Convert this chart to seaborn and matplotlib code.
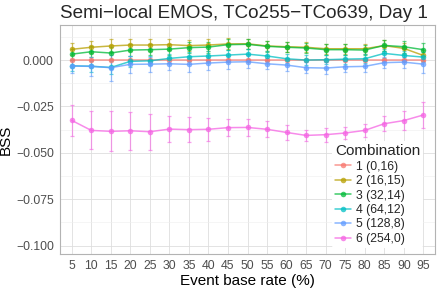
import numpy as np
import pandas as pd
import matplotlib
matplotlib.use("Agg")
import matplotlib.pyplot as plt
import seaborn as sns
from matplotlib.ticker import MultipleLocator

rates = [5, 10, 15, 20, 25, 30, 35, 40, 45, 50, 55, 60, 65, 70, 75, 80, 85, 90, 95]
combos = ["1 (0,16)", "2 (16,15)", "3 (32,14)", "4 (64,12)", "5 (128,8)", "6 (254,0)"]
colors = ["#F8766D", "#B79F00", "#00BA38", "#00BFC4", "#619CFF", "#F564E3"]

bss1 = [0.0] * 19
bss2 = [0.0058, 0.0069, 0.0076, 0.0081, 0.0081, 0.0083, 0.0078, 0.0081, 0.0087, 0.0088,
        0.0076, 0.0072, 0.0069, 0.0061, 0.0061, 0.0061, 0.0078, 0.0063, 0.0025]
bss3 = [0.0032, 0.0045, 0.0038, 0.0054, 0.0056, 0.0059, 0.0067, 0.0070, 0.0083, 0.0085,
        0.0074, 0.0069, 0.0065, 0.0056, 0.0056, 0.0054, 0.0079, 0.0072, 0.0056]
bss4 = [-0.0031, -0.0033, -0.0040, -0.0007, -0.0004, 0.0009, 0.0018, 0.0022, 0.0027, 0.0032,
        0.0022, 0.0007, 0.0000, 0.0002, 0.0005, 0.0007, 0.0036, 0.0025, 0.0016]
bss5 = [-0.0032, -0.0034, -0.0041, -0.0023, -0.0022, -0.0020, -0.0023, -0.0016, -0.0011, -0.0009,
        -0.0020, -0.0027, -0.0041, -0.0043, -0.0036, -0.0034, -0.0014, -0.0011, -0.0022]
bss6 = [-0.0325, -0.0379, -0.0384, -0.0381, -0.0386, -0.0372, -0.0375, -0.0373, -0.0364, -0.0363,
        -0.0373, -0.0390, -0.0406, -0.0402, -0.0393, -0.0379, -0.0343, -0.0326, -0.0296]

err1 = [0.0002] * 19
err2 = [0.0032, 0.0032, 0.0035, 0.0034, 0.0030, 0.0030, 0.0030, 0.0030, 0.0030, 0.0028,
        0.0028, 0.0028, 0.0028, 0.0028, 0.0028, 0.0028, 0.0030, 0.0030, 0.0030]
err3 = [0.0030, 0.0030, 0.0032, 0.0030, 0.0030, 0.0030, 0.0030, 0.0030, 0.0030, 0.0028,
        0.0028, 0.0028, 0.0028, 0.0028, 0.0028, 0.0028, 0.0030, 0.0032, 0.0035]
err4 = [0.0030, 0.0030, 0.0035, 0.0028, 0.0025, 0.0025, 0.0025, 0.0025, 0.0025, 0.0025,
        0.0025, 0.0025, 0.0025, 0.0025, 0.0025, 0.0025, 0.0025, 0.0025, 0.0025]
err5 = [0.0040, 0.0050, 0.0070, 0.0045, 0.0040, 0.0035, 0.0040, 0.0035, 0.0035, 0.0035,
        0.0030, 0.0030, 0.0030, 0.0030, 0.0030, 0.0030, 0.0030, 0.0030, 0.0045]
err6 = [0.0084, 0.0102, 0.0107, 0.0101, 0.0096, 0.0072, 0.0069, 0.0061, 0.0046, 0.0046,
        0.0043, 0.0038, 0.0031, 0.0038, 0.0032, 0.0036, 0.0041, 0.0052, 0.0071]

values = [bss1, bss2, bss3, bss4, bss5, bss6]
errors = [err1, err2, err3, err4, err5, err6]

rows = []
for c, v, e in zip(combos, values, errors):
    for i, (r, y, s) in enumerate(zip(rates, v, e)):
        rows.append({"pos": i, "rate": r, "BSS": y, "err": s, "Combination": c})
df = pd.DataFrame(rows)

sns.set_style("whitegrid")
plt.rcParams["font.family"] = ["Liberation Sans", "DejaVu Sans"]

fig = plt.figure(figsize=(4.41, 2.89), dpi=100)
ax = fig.add_axes([60 / 441, 1 - 254 / 289, 375 / 441, 229 / 289])

palette = dict(zip(combos, colors))
for c in combos:
    sub = df[df["Combination"] == c]
    ax.errorbar(sub["pos"], sub["BSS"], yerr=sub["err"], fmt="none",
                ecolor=palette[c], elinewidth=0.9, capsize=1.2, capthick=0.9,
                alpha=0.6, zorder=2)
sns.lineplot(data=df, x="pos", y="BSS", hue="Combination", palette=palette,
             marker="o", markersize=4, markeredgewidth=0, linewidth=1.1,
             alpha=0.75, ax=ax, zorder=3)

ax.set_xlim(-0.6, 18.6)
ax.set_ylim(-0.1045, 0.0189)
ax.set_xticks(range(len(rates)))
ax.set_xticklabels([str(r) for r in rates])
ax.set_yticks([0.0, -0.025, -0.05, -0.075, -0.1])
ax.set_yticklabels(["0.000", "\u22120.025", "\u22120.050", "\u22120.075", "\u22120.100"])
ax.yaxis.set_minor_locator(MultipleLocator(0.0125))
ax.grid(which="major", color="#DEDEDE", linewidth=0.6)
ax.grid(which="minor", axis="y", color="#EEEEEE", linewidth=0.4)
ax.set_axisbelow(True)
for sp in ax.spines.values():
    sp.set_color("#B3B3B3")
    sp.set_linewidth(0.8)
ax.tick_params(axis="both", which="major", labelsize=8.8, colors="#4D4D4D",
               length=2.5, width=0.6, pad=2, color="#B3B3B3")
ax.tick_params(axis="both", which="minor", length=0)
ax.set_xlabel("Event base rate (%)", fontsize=11, color="black", labelpad=1)
ax.set_ylabel("BSS", fontsize=11, color="black")
ax.yaxis.set_label_coords(-0.125, 0.5)
fig.text(60 / 441, 1 - 13 / 289, "Semi\u2212local EMOS, TCo255\u2212TCo639, Day 1",
         fontsize=13.6, ha="left", va="center")

handles, labels = ax.get_legend_handles_labels()
leg = ax.legend(handles, labels, title="Combination", loc="lower right",
                bbox_to_anchor=(0.985, 0.0), fontsize=8.8, title_fontsize=11,
                frameon=True, framealpha=1.0, edgecolor="white", facecolor="white",
                handlelength=1.3, handletextpad=0.4, labelspacing=0.2,
                borderpad=0.25, alignment="left")
leg.get_frame().set_linewidth(0)

fig.savefig("out.png", dpi=100)
